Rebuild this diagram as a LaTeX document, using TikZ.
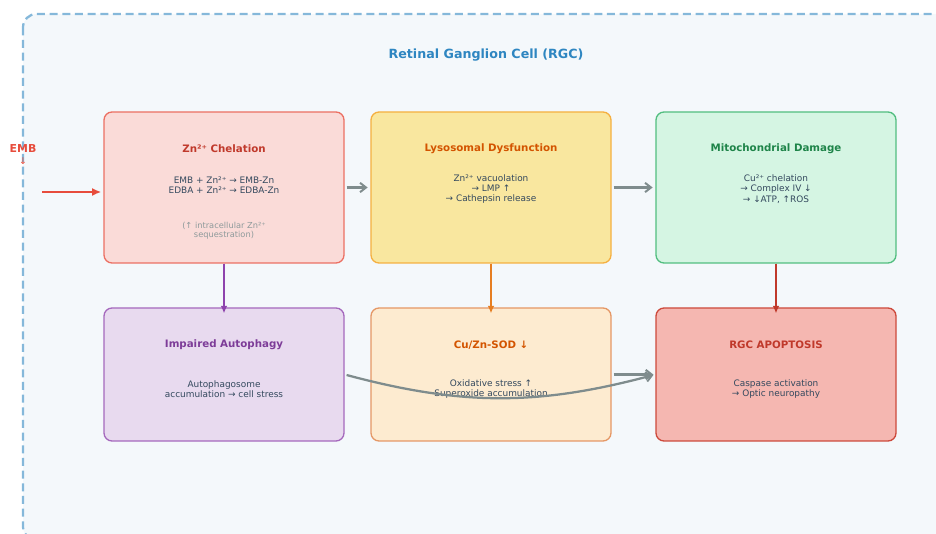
\documentclass[tikz,border=0pt]{standalone}
\usepackage{fontspec}
\setmainfont{DejaVu Sans}
\usetikzlibrary{arrows.meta}

\definecolor{cellfill}{HTML}{F4F8FB}
\definecolor{celledge}{HTML}{85B8DA}
\definecolor{celltitle}{HTML}{2E86C1}
\definecolor{bodytext}{HTML}{34495E}
\definecolor{notetext}{HTML}{8E9A9B}
\definecolor{flowgray}{HTML}{7F8C8D}
\definecolor{chelfill}{HTML}{FADBD8}\definecolor{cheledge}{HTML}{EC7063}\definecolor{cheltitle}{HTML}{C0392B}
\definecolor{lysofill}{HTML}{F9E79F}\definecolor{lysoedge}{HTML}{F5B041}\definecolor{lysotitle}{HTML}{D35400}
\definecolor{mitofill}{HTML}{D5F5E3}\definecolor{mitoedge}{HTML}{52BE80}\definecolor{mitotitle}{HTML}{1E8449}
\definecolor{autofill}{HTML}{E8DAEF}\definecolor{autoedge}{HTML}{A569BD}\definecolor{autotitle}{HTML}{7D3C98}
\definecolor{sodfill}{HTML}{FDEBD0}\definecolor{sodedge}{HTML}{E59866}\definecolor{sodtitle}{HTML}{D35400}
\definecolor{apopfill}{HTML}{F5B7B1}\definecolor{apopedge}{HTML}{CD4A3C}\definecolor{apoptitle}{HTML}{C0392B}
\definecolor{embred}{HTML}{E74C3C}
\definecolor{autoarrow}{HTML}{8E44AD}
\definecolor{sodarrow}{HTML}{E67E22}
\definecolor{apoparrow}{HTML}{C0392B}

\tikzset{
  stagebox/.style={draw, rounded corners=6pt, line width=1pt, minimum width=180pt, inner sep=0pt},
  tallbox/.style={stagebox, minimum height=113.25pt},
  shortbox/.style={stagebox, minimum height=99.75pt},
  boxtitle/.style={font=\fontsize{7.7}{9}\selectfont\bfseries, inner sep=0pt},
  boxbody/.style={font=\fontsize{6.7}{7.6}\selectfont, text=bodytext, align=center, inner sep=0pt},
  boxnote/.style={font=\fontsize{6.2}{7}\selectfont, text=notetext, align=center, inner sep=0pt},
  grayflow/.style={draw=flowgray, line width=1.7pt, -{Straight Barb[length=4.5pt,width=7pt,line width=1.5pt]}},
  downflow/.style={line width=1.6pt, -{Latex[length=5.5pt,width=5pt]}, shorten >=-4.5pt},
}

\begin{document}
\begin{tikzpicture}[x=0.75pt,y=-0.75pt]
  \useasboundingbox (0,0) rectangle (936,534);
  \clip (0,0) rectangle (936,534);

  % cell membrane
  \draw[fill=cellfill, draw=celledge, line width=1.7pt, dash pattern=on 6pt off 3.5pt, rounded corners=10pt]
    (23,14) rectangle (980,540);
  \node[font=\fontsize{9.5}{11}\selectfont\bfseries, text=celltitle] (celltitle) at (486,55) {Retinal Ganglion Cell (RGC)};

  % stage boxes
  \node[tallbox, fill=chelfill, draw=cheledge] (chel) at (224,187.5) {};
  \node[tallbox, fill=lysofill, draw=lysoedge] (lyso) at (491,187.5) {};
  \node[tallbox, fill=mitofill, draw=mitoedge] (mito) at (776,187.5) {};
  \node[shortbox, fill=autofill, draw=autoedge] (auto) at (224,374.5) {};
  \node[shortbox, fill=sodfill, draw=sodedge] (sod) at (491,374.5) {};
  \node[shortbox, fill=apopfill, draw=apopedge] (apop) at (776,374.5) {};

  % box texts
  \node[boxtitle, text=cheltitle] (cheltxt) at (224,149) {Zn²⁺ Chelation};
  \node[boxbody] (chelbody) at (224,185) {EMB + Zn²⁺ → EMB-Zn\\EDBA + Zn²⁺ → EDBA-Zn};
  \node[boxnote] (chelnote) at (224,230.5) {(↑ intracellular Zn²⁺\\sequestration)};

  \node[boxtitle, text=lysotitle] (lysotxt) at (491,149) {Lysosomal Dysfunction};
  \node[boxbody] (lysobody) at (491,189) {Zn²⁺ vacuolation\\→ LMP ↑\\→ Cathepsin release};

  \node[boxtitle, text=mitotitle] (mitotxt) at (776,149) {Mitochondrial Damage};
  \node[boxbody] (mitobody) at (776,189) {Cu²⁺ chelation\\→ Complex IV ↓\\→ ↓ATP, ↑ROS};

  \node[boxtitle, text=autotitle] (autotxt) at (224,345) {Impaired Autophagy};
  \node[boxbody] (autobody) at (224,389) {Autophagosome\\accumulation → cell stress};

  \node[boxtitle, text=sodtitle] (sodtxt) at (491,345) {Cu/Zn-SOD ↓};
  \node[boxbody] (sodbody) at (491,389) {Oxidative stress ↑\\Superoxide accumulation};

  \node[boxtitle, text=apoptitle] (apoptxt) at (776,345) {RGC APOPTOSIS};
  \node[boxbody] (apopbody) at (776,389) {Caspase activation\\→ Optic neuropathy};

  % drug entry
  \node[font=\fontsize{8.2}{9}\selectfont\bfseries, text=embred, inner sep=0pt] (emb) at (23,149) {EMB};
  \node[font=\fontsize{7}{8}\selectfont, text=embred, inner sep=0pt] (embdown) at (23,161) {↓};
  \coordinate (embin) at (42,192);
  \draw[draw=embred, line width=2.2pt, -{Latex[length=7pt,width=6pt]}, shorten >=1.5pt] (embin) -- (embin -| chel.west);

  % cascade
  \draw[grayflow, shorten <=1.5pt, shorten >=2pt] (chel.east) -- (lyso.west);
  \draw[grayflow, shorten <=1.5pt, shorten >=2pt] (lyso.east) -- (mito.west);
  \draw[downflow, draw=autoarrow, fill=autoarrow] (chel.south) -- (auto.north);
  \draw[downflow, draw=sodarrow, fill=sodarrow] (lyso.south) -- (sod.north);
  \draw[downflow, draw=apoparrow, fill=apoparrow] (mito.south) -- (apop.north);
  \draw[grayflow, shorten <=1.5pt, shorten >=1.5pt] (sod.east) -- (apop.west);
  \draw[grayflow, shorten <=1.5pt, shorten >=1.5pt] (auto.east) to[bend right=15] (apop.west);
\end{tikzpicture}
\end{document}
